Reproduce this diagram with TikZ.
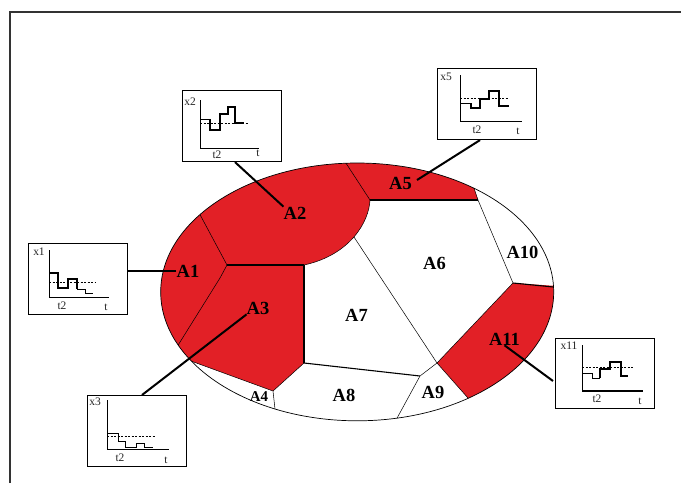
\documentclass[tikz,border=0pt]{standalone}
\usepackage{fontspec}
\setmainfont{Liberation Serif}
\usetikzlibrary{calc}
\definecolor{regred}{RGB}{226,32,38}
\begin{document}
\begin{tikzpicture}[x=1pt,y=-1pt,
  edgethin/.style={line width=0.5pt},
  edgethick/.style={line width=1.1pt},
  leader/.style={line width=2pt},
  lbl/.style={font=\fontsize{18.5}{18.5}\selectfont\bfseries, inner sep=0pt},
  lblsmall/.style={font=\fontsize{15}{15}\selectfont\bfseries, inner sep=0pt},
  inset/.style={draw, line width=1.1pt, minimum width=99pt, minimum height=71pt, inner sep=0pt, anchor=north west, fill=white},
  itxt/.style={font=\fontsize{11.5}{11.5}\selectfont, inner sep=0pt, text=black!85},
  axisln/.style={line width=1pt},
  stepthick/.style={line width=1.1pt},
  stepthin/.style={line width=0.6pt},
  dashln/.style={line width=0.6pt, dash pattern=on 2pt off 1.5pt}
]
\useasboundingbox (0,0) rectangle (681,483);
% frame
\draw[line width=1.2pt, black!80] (10,483) -- (10,12) -- (681,12);

% red regions clipped to ellipse
\begin{scope}
  \clip (357.2,291.9) ellipse [x radius=196.5, y radius=128.9];
  \fill[regred] (478,140) -- (474,188) -- (478,200) -- (370,200)
     .. controls (369,222) and (350,255) .. (304,265) -- (304,363) -- (273,391)
     -- (192,361.4) -- (140,385) -- (140,140) -- cycle;
  \fill[regred] (513,283) -- (600,289) -- (600,440) -- (485,440) -- (480,410)
     -- (468,398) -- (437,363) -- cycle;
\end{scope}

% region borders
\draw[edgethin] (200,214.6) -- (227,265);
\draw[edgethick] (227,265) -- (304,265);
\draw[edgethin] (227,265) -- (220,278) -- (178.3,344.8);
\draw[edgethin] (346,163.2) -- (370,200);
\draw[edgethick] (370,200) -- (478,200);
\draw[edgethin] (370,200) .. controls (369,222) and (350,255) .. (304,265);
\draw[edgethin] (474,188.2) -- (478,200) -- (513,283);
\draw[edgethick] (513,283) -- (553.5,287);
\draw[edgethin] (513,283) -- (437,363) -- (468,398);
\draw[edgethin] (353.9,236.9) -- (437,363);
\draw[line width=1.6pt] (304,265) -- (304,363);
\draw[edgethick] (304,363) -- (420,376);
\draw[edgethin] (437,363) -- (420,376) -- (397,418.2);
\draw[edgethin] (304,363) -- (273,391) -- (192,361.4);
\draw[edgethin] (273,391) -- (275,409);
\draw[line width=0.7pt] (357.2,291.9) ellipse [x radius=196.5, y radius=128.9];

% region labels
\node[lbl] (A1) at (188,271) {A1};
\node[lbl] (A2) at (295,213) {A2};
\node[lbl] (A3) at (258,308) {A3};
\node[lblsmall] (A4) at (259,397) {A4};
\node[lbl] (A5) at (400.5,183) {A5};
\node[lbl] (A6) at (434.5,263) {A6};
\node[lbl] (A7) at (356.5,315) {A7};
\node[lbl] (A8) at (344,395) {A8};
\node[lbl] (A9) at (433,392) {A9};
\node[lbl] (A10) at (522.5,252) {A10};
\node[lbl] (A11) at (504.5,339) {A11};

% inset boxes
\node[inset] (bx1) at (28,243) {};
\node[inset] (bx2) at (182,90) {};
\node[inset] (bx3) at (87,395) {};
\node[inset] (bx5) at (437,68) {};
\node[inset, minimum height=70pt] (bx11) at (555,338) {};

% inset x1
\begin{scope}[shift={(28,243)}]
  \node[itxt] (x1l) at (11,9) {x1};
  \draw[axisln] (21,7) -- (21,54) -- (81,54);
  \node[itxt] (x1t2) at (34,63) {t2};
  \node[itxt] (x1t) at (78,64) {t};
  \draw[stepthick] (21,30) -- (30,30) -- (30,45) -- (40,45) -- (40,36) -- (49,36) -- (49,46);
  \draw[stepthin] (49,46) -- (57,46) -- (57,50) -- (65,50);
  \draw[dashln] (21,39) -- (67,39);
\end{scope}

% inset x2
\begin{scope}[shift={(182,90)}]
  \node[itxt] (x2l) at (8,12) {x2};
  \draw[axisln] (18,10) -- (18,58) -- (77,58);
  \node[itxt] (x2t2) at (35,65) {t2};
  \node[itxt] (x2t) at (76,63) {t};
  \draw[stepthin] (18,29) -- (28,29);
  \draw[stepthick] (28,29) -- (28,40) -- (38,40) -- (38,24) -- (46,24) -- (46,17) -- (53,17) -- (53,33) -- (62,33);
  \draw[dashln, line width=1pt] (18,33) -- (66,33);
\end{scope}

% inset x3
\begin{scope}[shift={(87,395)}]
  \node[itxt] (x3l) at (8,7) {x3};
  \draw[axisln] (20,5) -- (20,54) -- (82,54);
  \node[itxt] (x3t2) at (33,63) {t2};
  \node[itxt] (x3t) at (79,65) {t};
  \draw[stepthin] (20,38) -- (31,38) -- (31,46) -- (38,46) -- (38,52) -- (49,52) -- (49,48) -- (57,48) -- (57,52) -- (66,52);
  \draw[dashln] (20,41) -- (68,41);
\end{scope}

% inset x5
\begin{scope}[shift={(437,68)}]
  \node[itxt] (x5l) at (9,9) {x5};
  \draw[axisln] (23,7) -- (23,53) -- (85,53);
  \node[itxt] (x5t2) at (40,62) {t2};
  \node[itxt] (x5t) at (81,63) {t};
  \draw[stepthin] (23,35) -- (34,35);
  \draw[stepthick] (34,35) -- (34,40) -- (43,40) -- (43,31) -- (52,31) -- (52,23) -- (62,23) -- (62,38) -- (72,38);
  \draw[dashln] (23,30) -- (72,30);
\end{scope}

% inset x11
\begin{scope}[shift={(555,338)}]
  \node[itxt] (x11l) at (14,8) {x11};
  \draw[axisln] (27,7) -- (27,53);
  \draw[line width=1.6pt] (27,53) -- (88,53);
  \node[itxt] (x11t2) at (42,61) {t2};
  \node[itxt] (x11t) at (85,63) {t};
  \draw[stepthin] (27,35) -- (37,35) -- (37,40) -- (45,40);
  \draw[stepthick] (45,40) -- (45,31) -- (55,31) -- (55,24) -- (66,24) -- (66,38) -- (73,38);
  \draw[dashln, line width=0.9pt] (27,29) -- (78,29);
\end{scope}

% leader lines
\draw[leader] (A1.west) -- (A1.west -| bx1.east);
\draw[leader] (A2.north west) -- ($(bx2.south west)+(53,0)$);
\draw[leader] (A3.south west) -- ($(bx3.north west)+(55,0)$);
\draw[leader] ($(A5.east)+(5,-3)$) -- ($(bx5.south west)+(43,0)$);
\draw[leader] (A11.south) -- ($(bx11.north west)+(-2,43)$);
\end{tikzpicture}
\end{document}
